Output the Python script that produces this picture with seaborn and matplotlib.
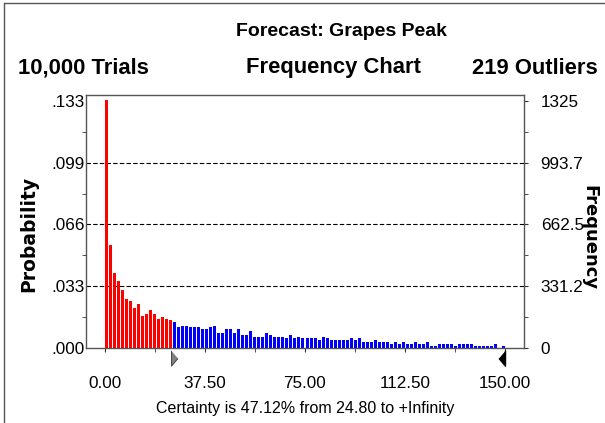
import numpy as np
import pandas as pd
import matplotlib
matplotlib.use("Agg")
import matplotlib.pyplot as plt
import seaborn as sns
from matplotlib.lines import Line2D

# Crystal Ball style forecast: Grapes Peak, 10,000 trials, 100 bins of width 1.5
trials = 10000
outliers = 219
bin_width = 1.5
certainty_from = 24.80
certainty_to = 150.0

counts = [1329, 553, 400, 361, 310, 263, 253, 215, 235, 173,
          183, 205, 185, 155, 167, 157, 148, 141, 112, 119,
          119, 112, 112, 112, 101, 101, 112, 119, 82, 82,
          101, 101, 82, 101, 71, 71, 93, 60, 60, 60,
          82, 71, 60, 60, 60, 53, 71, 53, 60, 53,
          53, 53, 53, 43, 60, 53, 43, 43, 43, 43,
          43, 53, 43, 53, 34, 34, 34, 43, 34, 34,
          34, 23, 34, 23, 34, 23, 23, 34, 23, 23,
          34, 12, 12, 23, 23, 23, 23, 12, 23, 23,
          23, 23, 12, 12, 12, 12, 12, 23, 0, 12]

x_ticks = [0, 37.5, 75, 112.5, 150]
x_labels = ["0.00", "37.50", "75.00", "112.50", "150.00"]
freq_ticks = [0, 331.25, 662.5, 993.75, 1325]
freq_labels = ["0", "331.2", "662.5", "993.7", "1325"]
prob_labels = [".000", ".033", ".066", ".099", ".133"]

df = pd.DataFrame({"value": np.arange(len(counts)) * bin_width + bin_width / 2,
                   "count": counts})
df["zone"] = np.where(df["value"] < certainty_from, "below", "certain")

sns.set_style("white")
plt.rcParams["font.family"] = ["Liberation Sans", "DejaVu Sans"]
plt.rcParams["text.color"] = "black"
plt.rcParams["xtick.color"] = "black"
plt.rcParams["ytick.color"] = "black"

fig = plt.figure(figsize=(6.05, 4.23), dpi=100)
ax = fig.add_axes([86 / 605, 75 / 423, 438 / 605, 253 / 423])

sns.histplot(data=df, x="value", weights="count", hue="zone",
             palette={"below": "#ff0000", "certain": "#0000ff"},
             binwidth=bin_width, binrange=(0, 150), shrink=0.75,
             alpha=1, linewidth=0, legend=False, ax=ax)

ymax = 1357
ax.set_xlim(-7.1, 157.1)
ax.set_ylim(0, ymax)
for lvl in freq_ticks[1:4]:
    ax.axhline(lvl, color="black", lw=0.8, ls=(0, (4, 2)), zorder=0)

ax2 = ax.twinx()

# frequency on the right
ax.yaxis.tick_right()
ax.set_yticks(freq_ticks)
ax.set_yticklabels(freq_labels)
ax.set_yticks([v + 331.25 / 2 for v in freq_ticks[:-1]], minor=True)
ax.set_xticks(x_ticks)
ax.set_xticklabels(x_labels)
ax.set_xticks([v + 18.75 for v in x_ticks[:-1]], minor=True)
ax.set_xlabel("")
ax.set_ylabel("")
ax.tick_params(axis="x", which="both", direction="out", bottom=True,
               length=3, pad=17, labelsize=12.3, color="#333333")
ax.tick_params(axis="y", which="both", direction="out", right=True, left=False,
               labelright=True, labelleft=False,
               length=3, pad=9, labelsize=12.3, color="#333333")
for s in ax.spines.values():
    s.set_color("#555555")
    s.set_linewidth(1)

# probability on the left
ax2.yaxis.tick_left()
ax2.set_ylim(0, ymax / trials)
ax2.set_yticks([v / trials for v in freq_ticks])
ax2.set_yticklabels(prob_labels)
ax2.set_yticks([(v + 331.25 / 2) / trials for v in freq_ticks[:-1]], minor=True)
ax2.tick_params(axis="y", which="major", direction="out", left=True, right=False,
                labelleft=True, labelright=False,
                length=0, pad=1, labelsize=12.3)
ax2.tick_params(axis="y", which="minor", direction="out", left=True, right=False,
                length=3, color="#333333")
for s in ax2.spines.values():
    s.set_visible(False)

# certainty grabbers
trans = ax.get_xaxis_transform()
ax2.plot([certainty_from], [-0.04], transform=trans, clip_on=False,
         marker=[(0, 1), (0, -1), (0.85, 0)], markersize=11,
         color="#808080", markeredgecolor="#333333", markeredgewidth=0.6)
ax2.plot([certainty_to], [-0.04], transform=trans, clip_on=False,
         marker=[(0, 1), (0, -1), (-0.85, 0)], markersize=11,
         color="black")

# axis titles
fig.text(29 / 605, 1 - 234 / 423, "Probability", rotation=90, ha="center", va="center",
         fontsize=13.5, fontweight="bold", family="DejaVu Sans")
fig.text(589 / 605, 1 - 238 / 423, "Frequency", rotation=-90, ha="center", va="center",
         fontsize=13, fontweight="bold", family="DejaVu Sans")

# header texts
fig.text(341 / 605, 1 - 31 / 423, "Forecast: Grapes Peak", ha="center", va="center",
         fontsize=14, fontweight="bold")
fig.text(18 / 605, 1 - 68 / 423, f"{trials:,} Trials", ha="left", va="center",
         fontsize=15.8, fontweight="bold")
fig.text(333 / 605, 1 - 68 / 423, "Frequency Chart", ha="center", va="center",
         fontsize=15.8, fontweight="bold")
fig.text(598 / 605, 1 - 68 / 423, f"{outliers} Outliers", ha="right", va="center",
         fontsize=15.8, fontweight="bold")
fig.text(305 / 605, 1 - 408 / 423, "Certainty is 47.12% from 24.80 to +Infinity",
         ha="center", va="center", fontsize=11.5)

# window frame (left and top edge)
fig.add_artist(Line2D([4 / 605, 4 / 605], [0, 1 - 3 / 423], color="#555555", lw=1))
fig.add_artist(Line2D([4 / 605, 1], [1 - 3 / 423, 1 - 3 / 423], color="#555555", lw=1))

fig.savefig("out.png", dpi=100)
